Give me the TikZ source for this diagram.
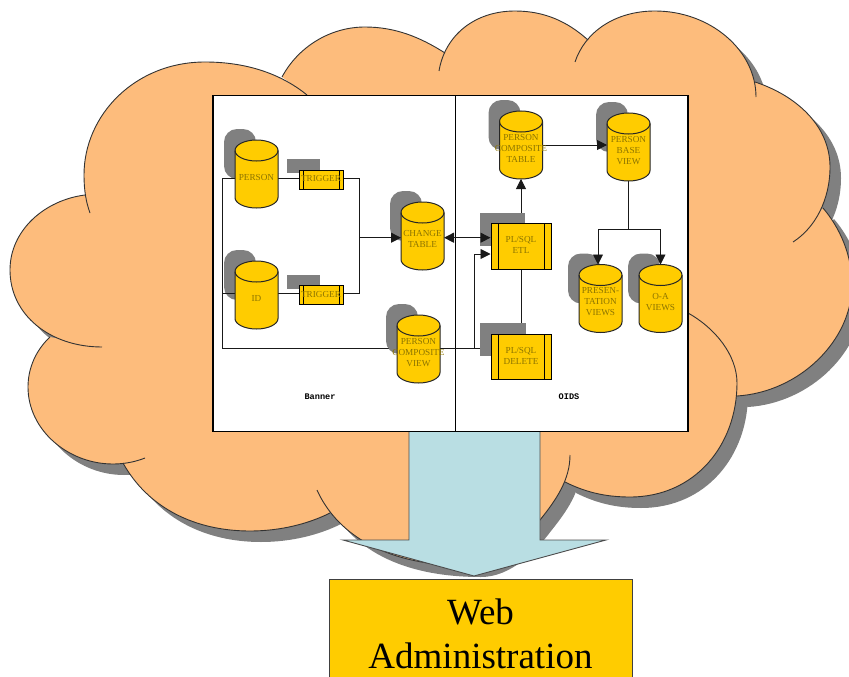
\documentclass[tikz,border=0pt]{standalone}
\usepackage{fontspec}
\setmainfont{Liberation Serif}
\newfontfamily\labmono{Liberation Mono}
\usetikzlibrary{arrows.meta,calc}
\definecolor{cloudfill}{HTML}{FDBC7C}
\definecolor{cloudshade}{HTML}{808080}
\definecolor{gold}{HTML}{FFCC00}
\definecolor{goldtext}{HTML}{8C7400}
\definecolor{arrowblue}{HTML}{B9DEE3}
\pgfdeclarelayer{under}\pgfdeclarelayer{shadeA}\pgfdeclarelayer{edgeA}\pgfdeclarelayer{shadeB}\pgfdeclarelayer{edgeB}\pgfdeclarelayer{cylbody}
\pgfsetlayers{under,shadeA,edgeA,shadeB,edgeB,cylbody,main}
\newcommand\clab[1]{\makebox[0pt][c]{\fontsize{9.2}{11}\selectfont\color{goldtext}\begin{tabular}{@{}c@{}}#1\end{tabular}}}
\newcommand\dlab[1]{\vbox{\vskip8pt\hbox{\clab{#1}}}}
\newcommand\lobeA{(85,195) .. controls (45,200) and (10,230) .. (10,270) .. controls (10,315) and (50,347) .. (102,347)}
\newcommand\lobeB{(50,337) .. controls (36,350) and (28,368) .. (28,387) .. controls (28,430) and (68,464) .. (113,464) .. controls (124,464) and (135,462) .. (145,458)}
\newcommand\lobeC{(123,463) .. controls (148,508) and (195,531) .. (250,531) .. controls (280,531) and (308,524) .. (330,513)}
\newcommand\lobeD{(317,490) .. controls (335,530) and (380,566) .. (470,566) .. controls (500,566) and (525,540) .. (540,520) .. controls (556,500) and (570,480) .. (570,455)}
\newcommand\lobeE{(565,482) .. controls (585,492) and (605,497) .. (630,497) .. controls (695,497) and (737,445) .. (737,383) .. controls (737,355) and (715,328) .. (688,313)}
\newcommand\lobeF{(737,396) .. controls (800,392) and (852,340) .. (852,285) .. controls (852,255) and (840,228) .. (823,208)}
\newcommand\lobeG{(793,242) .. controls (815,228) and (830,200) .. (830,167) .. controls (830,125) and (795,95) .. (755,82)}
\newcommand\lobeH{(756,97) .. controls (756,50) and (710,11) .. (655,11) .. controls (615,11) and (585,32) .. (575,62)}
\newcommand\lobeI{(588,40) .. controls (568,22) and (545,11) .. (515,11) .. controls (475,11) and (445,35) .. (439,71)}
\newcommand\lobeJ{(445,53) .. controls (420,37) and (395,27) .. (365,27) .. controls (330,27) and (298,47) .. (282,77)}
\newcommand\lobeK{(307,95) .. controls (280,73) and (245,62) .. (205,62) .. controls (135,62) and (84,115) .. (84,175) .. controls (84,190) and (86,202) .. (90,213)}
\edef\cloudoutline{\lobeA -- \lobeB -- \lobeC -- \lobeD -- \lobeE -- \lobeF -- \lobeG -- \lobeH -- \lobeI -- \lobeJ -- \lobeK -- cycle}
\tikzset{
  x=1pt,y=-1pt,
  cloudedge/.style={draw=black!80,line width=.9pt},
  dbcyl/.style={inner sep=0pt,outer sep=0pt,minimum width=43pt,minimum height=68pt},
  cylskin/.style={draw=black!85,line width=1pt,fill=gold},
  dbshade/.style={fill=cloudshade,rounded corners=13pt,minimum width=32pt,minimum height=50pt,inner sep=0pt},
  procbox/.style={draw=black,line width=1pt,fill=gold,inner sep=0pt,path picture={
    \draw[line width=1pt] ([xshift=#1]path picture bounding box.north west)--([xshift=#1]path picture bounding box.south west);
    \draw[line width=1pt] ([xshift=-#1]path picture bounding box.north east)--([xshift=-#1]path picture bounding box.south east);}},
  procshade/.style={fill=cloudshade,inner sep=0pt},
  wire/.style={draw=black!90,line width=.9pt},
  tip/.style={-{Triangle[length=10pt,width=10pt]}},
  tiptwo/.style={{Triangle[length=10pt,width=10pt]}-{Triangle[length=10pt,width=10pt]}},
  paneltitle/.style={font=\labmono\bfseries\fontsize{8.6}{10}\selectfont,inner sep=0pt},
}
\begin{document}
\begin{tikzpicture}
\clip (0,0) rectangle (849,677);
\useasboundingbox (0,0) rectangle (849,677);
% nodes
\node[dbcyl] (person) at (256.5,174) {\dlab{PERSON}};
\node[dbcyl] (idnode) at (256.5,295) {\dlab{ID}};
\node[dbcyl] (change) at (422.5,236) {\dlab{CHANGE\\TABLE}};
\node[dbcyl] (view) at (418.5,349) {\dlab{PERSON\\COMPOSITE\\VIEW}};
\node[dbcyl] (table) at (521,145) {\dlab{PERSON\\COMPOSITE\\TABLE}};
\node[dbcyl] (base) at (628.5,147) {\dlab{PERSON\\BASE\\VIEW}};
\node[dbcyl] (pres) at (600.5,298.5) {\dlab{PRESEN-\\TATION\\VIEWS}};
\node[dbcyl] (oa) at (660.5,298.5) {\dlab{O-A\\VIEWS}};
\node[procbox=4pt,minimum width=44pt,minimum height=19pt] (trigA) at (321,179.5) {\clab{TRIGGER}};
\node[procbox=4pt,minimum width=44pt,minimum height=19pt] (trigB) at (321,295) {\clab{TRIGGER}};
\node[procbox=7pt,minimum width=60pt,minimum height=46pt] (etl) at (521,246) {\clab{PL/SQL\\ETL}};
\node[procbox=7pt,minimum width=60pt,minimum height=45pt] (delnode) at (521,356.5) {\clab{PL/SQL\\DELETE}};
\node[paneltitle] (banner) at (320,397) {Banner};
\node[paneltitle] (oid) at (569,397) {OIDS};
\node[draw=black!75,line width=1pt,fill=gold,minimum width=303pt,minimum height=110pt,inner sep=0pt,align=center,font=\fontsize{37}{44}\selectfont] (web) at (480.5,634) {Web\\Administration};
\coordinate (busTL) at (222.5,178);
\coordinate (busID) at (222.5,293);
\coordinate (busBL) at (222.5,348.7);
\coordinate (joinT) at (359.5,178);
\coordinate (joinB) at (359.5,293);
\coordinate (joinM) at (359.5,237.7);
\coordinate (upBase) at (474,348.7);
\coordinate (upTop) at (474,254);
\coordinate (forkC) at (628.5,229.5);
\coordinate (forkL) at (598,229.5);
\coordinate (forkR) at (660.5,229.5);
\coordinate (rowT) at (0,145);
\begin{pgfonlayer}{under}
\fill[cloudshade,shift={(11,11)}] \cloudoutline;
\fill[cloudfill] \cloudoutline;
\draw[cloudedge] \lobeA;
\draw[cloudedge] \lobeB;
\draw[cloudedge] \lobeC;
\draw[cloudedge] \lobeD;
\draw[cloudedge] \lobeE;
\draw[cloudedge] \lobeF;
\draw[cloudedge] \lobeG;
\draw[cloudedge] \lobeH;
\draw[cloudedge] \lobeI;
\draw[cloudedge] \lobeJ;
\draw[cloudedge] \lobeK;
\draw[fill=arrowblue,draw=black!70,line width=.9pt] (409,431)--(409,540)--(343,540)--(474,576)--(606,540)--(540,540)--(540,431)--cycle;
\draw[fill=white,draw=black,line width=1.2pt] (213,95.5) rectangle (688,431.5);
\draw[draw=black,line width=1.2pt] (455.5,95.5)--(455.5,431.5);
\end{pgfonlayer}
\begin{pgfonlayer}{shadeA}
\foreach \n in {person,idnode,change,table,base,pres,oa}{\node[dbshade] (\n shade) at ($(\n.center)+(-16.5,-20)$) {};}
\node[procshade,minimum width=33pt,minimum height=14pt] (trigAshade) at (303.5,166) {};
\node[procshade,minimum width=33pt,minimum height=14pt] (trigBshade) at (303.5,282) {};
\end{pgfonlayer}
\begin{pgfonlayer}{edgeA}
\draw[wire] (person.west |- busTL)--(busTL)--(busBL)--(view.west |- busBL);
\draw[wire] (idnode.west |- busID)--(busID);
\draw[wire] (view.east |- busBL)--(delnode.west |- busBL);
\draw[wire] (delnode.north)--(etl.south);
\draw[wire,tip] (etl.north)--(table.south);
\end{pgfonlayer}
\begin{pgfonlayer}{shadeB}
\node[dbshade] (viewshade) at ($(view.center)+(-16.5,-20)$) {};
\node[procshade,minimum width=45pt,minimum height=33pt] (etlshade) at (502.5,229.5) {};
\node[procshade,minimum width=46pt,minimum height=33pt] (delshade) at (503,339.5) {};
\end{pgfonlayer}
\begin{pgfonlayer}{edgeB}
\draw[wire] (person.east |- busTL)--(trigA.west |- busTL);
\draw[wire] (trigA.east |- joinT)--(joinT)--(joinB)--(trigB.east |- joinB);
\draw[wire] (trigB.west |- joinB)--(idnode.east |- joinB);
\draw[wire,tip] (joinM)--(change.west |- joinM);
\draw[wire,tiptwo] (change.east |- joinM)--(etl.west |- joinM);
\draw[wire,tip] (upBase)--(upTop)--(etl.west |- upTop);
\draw[wire,tip] (table.east |- rowT)--(base.west |- rowT);
\draw[wire] (base.south)--(forkC);
\draw[wire,tip] (forkR)--(forkL)--(pres.north -| forkL);
\draw[wire,tip] (forkR)--(oa.north -| forkR);
\end{pgfonlayer}
\begin{pgfonlayer}{cylbody}
\foreach \n in {person,idnode,change,view,table,base,pres,oa}{
  \draw[cylskin] ([yshift=-10.5pt]\n.north west) arc[start angle=180,end angle=0,x radius=21.5pt,y radius=10.5pt]
    -- ([yshift=10.5pt]\n.south east) arc[start angle=0,end angle=-180,x radius=21.5pt,y radius=10.5pt] -- cycle;
  \draw[draw=black!85,line width=1pt] ([yshift=-10.5pt]\n.north west) arc[start angle=180,end angle=360,x radius=21.5pt,y radius=10.5pt];
}
\end{pgfonlayer}
\end{tikzpicture}
\end{document}
